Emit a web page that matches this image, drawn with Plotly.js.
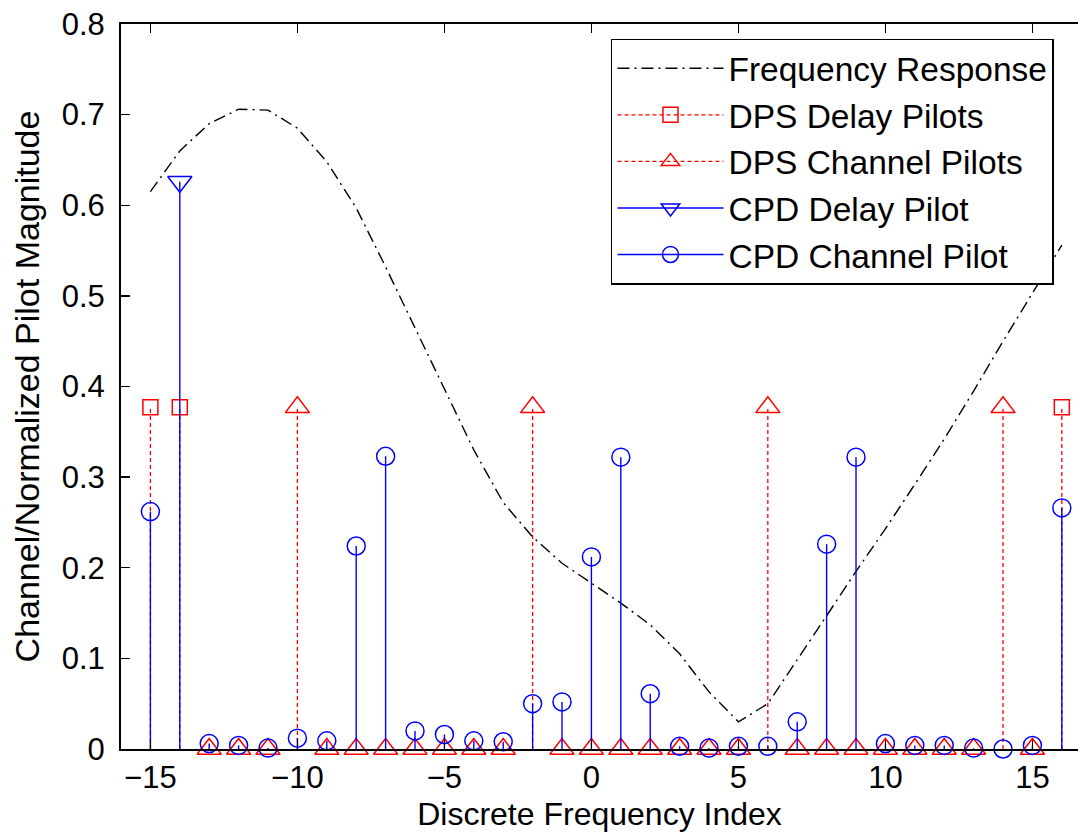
<!DOCTYPE html>
<html>
<head>
<meta charset="utf-8">
<script src="https://cdn.plot.ly/plotly-3.0.1.min.js"></script>
<style>
html,body{margin:0;padding:0;background:#fff;overflow:hidden;}
#chart{width:1078px;height:835px;}
</style>
</head>
<body>
<div id="chart"></div>
<script>
// Frequency response (channel magnitude) at each discrete frequency index
const freqIndex = [-15,-14,-13,-12,-11,-10,-9,-8,-7,-6,-5,-4,-3,-2,-1,0,1,2,3,4,5,6,7,8,9,10,11,12,13,14,15,16];
const freqResponse = [0.615,0.660,0.690,0.706,0.705,0.685,0.648,0.597,0.532,0.465,0.398,0.330,0.272,0.234,0.205,0.183,0.161,0.137,0.105,0.063,0.030,0.050,0.098,0.147,0.196,0.243,0.292,0.342,0.395,0.450,0.503,0.556];

// DPS delay pilots
const dpsDelayIndex = [-15,-14,16];
const dpsDelayValue = [0.377,0.377,0.377];

// DPS channel pilots
const dpsChanIndex = [-13,-12,-11,-10,-9,-8,-7,-6,-5,-4,-3,-2,-1,0,1,2,3,4,5,6,7,8,9,10,11,12,13,14,15];
const dpsChanValue = [0,0,0,0.377,0,0,0,0,0,0,0,0.377,0,0,0,0,0,0,0,0.377,0,0,0,0,0,0,0,0.377,0];

// CPD delay pilot
const cpdDelayIndex = [-14];
const cpdDelayValue = [0.626];

// CPD channel pilots
const cpdChanIndex = [-15,-13,-12,-11,-10,-9,-8,-7,-6,-5,-4,-3,-2,-1,0,1,2,3,4,5,6,7,8,9,10,11,12,13,14,15,16];
const cpdChanValue = [0.262,0.006,0.004,0.001,0.012,0.009,0.224,0.323,0.020,0.016,0.009,0.008,0.050,0.052,0.212,0.322,0.061,0.003,0.001,0.003,0.003,0.030,0.226,0.322,0.006,0.004,0.004,0.001,0.000,0.004,0.266];

const seriesNames = ['Frequency Response','DPS Delay Pilots','DPS Channel Pilots','CPD Delay Pilot','CPD Channel Pilot'];

const FONT = '"Liberation Sans", Arial, Helvetica, sans-serif';

function stemLines(xs, ys){
  const x = [], y = [];
  xs.forEach((v,i)=>{ x.push(v, v, null); y.push(0, ys[i], null); });
  return {x, y};
}
function isolated(xs, ys){
  const x = [], y = [];
  xs.forEach((v,i)=>{ x.push(v, null); y.push(ys[i], null); });
  return {x, y};
}
function stemTraces(xs, ys, name, lineStyle, marker){
  const s = stemLines(xs, ys);
  const p = isolated(xs, ys);
  return [
    {type:'scatter', mode:'lines', x:s.x, y:s.y, line:lineStyle, showlegend:false, hoverinfo:'skip', connectgaps:false},
    {type:'scatter', mode:'lines+markers', x:p.x, y:p.y, name:name, line:lineStyle, marker:marker, connectgaps:false, cliponaxis:false}
  ];
}

const red = '#ff0000', blue = '#0000ff';
const redDot = {color:red, width:1.3, dash:'4px,3px'};
const blueSolid = {color:blue, width:1.4};

const traces = [
  {type:'scatter', mode:'lines', x:freqIndex, y:freqResponse, name:seriesNames[0],
   line:{color:'#000000', width:1.4, dash:'12px,5px,2px,5px'}},
  ...stemTraces(dpsDelayIndex, dpsDelayValue, seriesNames[1], redDot,
     {symbol:'square-open', size:15, color:red, line:{color:red, width:1.5}}),
  ...stemTraces(dpsChanIndex, dpsChanValue, seriesNames[2], redDot,
     {symbol:'triangle-up-open', size:21, color:red, line:{color:red, width:1.5}}),
  ...stemTraces(cpdDelayIndex, cpdDelayValue, seriesNames[3], blueSolid,
     {symbol:'triangle-down-open', size:21, color:blue, line:{color:blue, width:1.5}}),
  ...stemTraces(cpdChanIndex, cpdChanValue, seriesNames[4], blueSolid,
     {symbol:'circle-open', size:18, color:blue, line:{color:blue, width:1.5}})
];

const layout = {
  width:1078, height:835,
  margin:{l:121, r:0, t:24, b:86},
  paper_bgcolor:'#ffffff', plot_bgcolor:'#ffffff',
  font:{family:FONT, color:'#000000', size:31},
  showlegend:true,
  xaxis:{
    range:[-16, 16.55], tick0:0, dtick:5, ticks:'inside', ticklen:9, tickwidth:1.3, tickcolor:'#000',
    showline:true, linecolor:'#000', linewidth:2, mirror:'ticks', showgrid:false, zeroline:false,
    tickfont:{family:FONT, size:31, color:'#000'}, ticklabelstandoff:0,
    title:{text:'Discrete Frequency Index', font:{family:FONT, size:32, color:'#000'}, standoff:8}
  },
  yaxis:{
    range:[0, 0.8], tick0:0, dtick:0.1, ticks:'inside', ticklen:9, tickwidth:1.3, tickcolor:'#000',
    showline:true, linecolor:'#000', linewidth:2, mirror:false, showgrid:false, zeroline:false,
    tickfont:{family:FONT, size:31, color:'#000'}, ticklabelstandoff:8,
    title:{text:'Channel/Normalized Pilot Magnitude', font:{family:FONT, size:34, color:'#000'}, standoff:12}
  },
  legend:{
    x:0.512, y:0.98, xanchor:'left', yanchor:'top',
    bgcolor:'#ffffff', bordercolor:'#000000', borderwidth:1.5,
    font:{family:FONT, size:33.5, color:'#000'}, itemwidth:106, tracegroupgap:0
  }
};

Plotly.newPlot('chart', traces, layout, {displayModeBar:false, staticPlot:true});
</script>
</body>
</html>
